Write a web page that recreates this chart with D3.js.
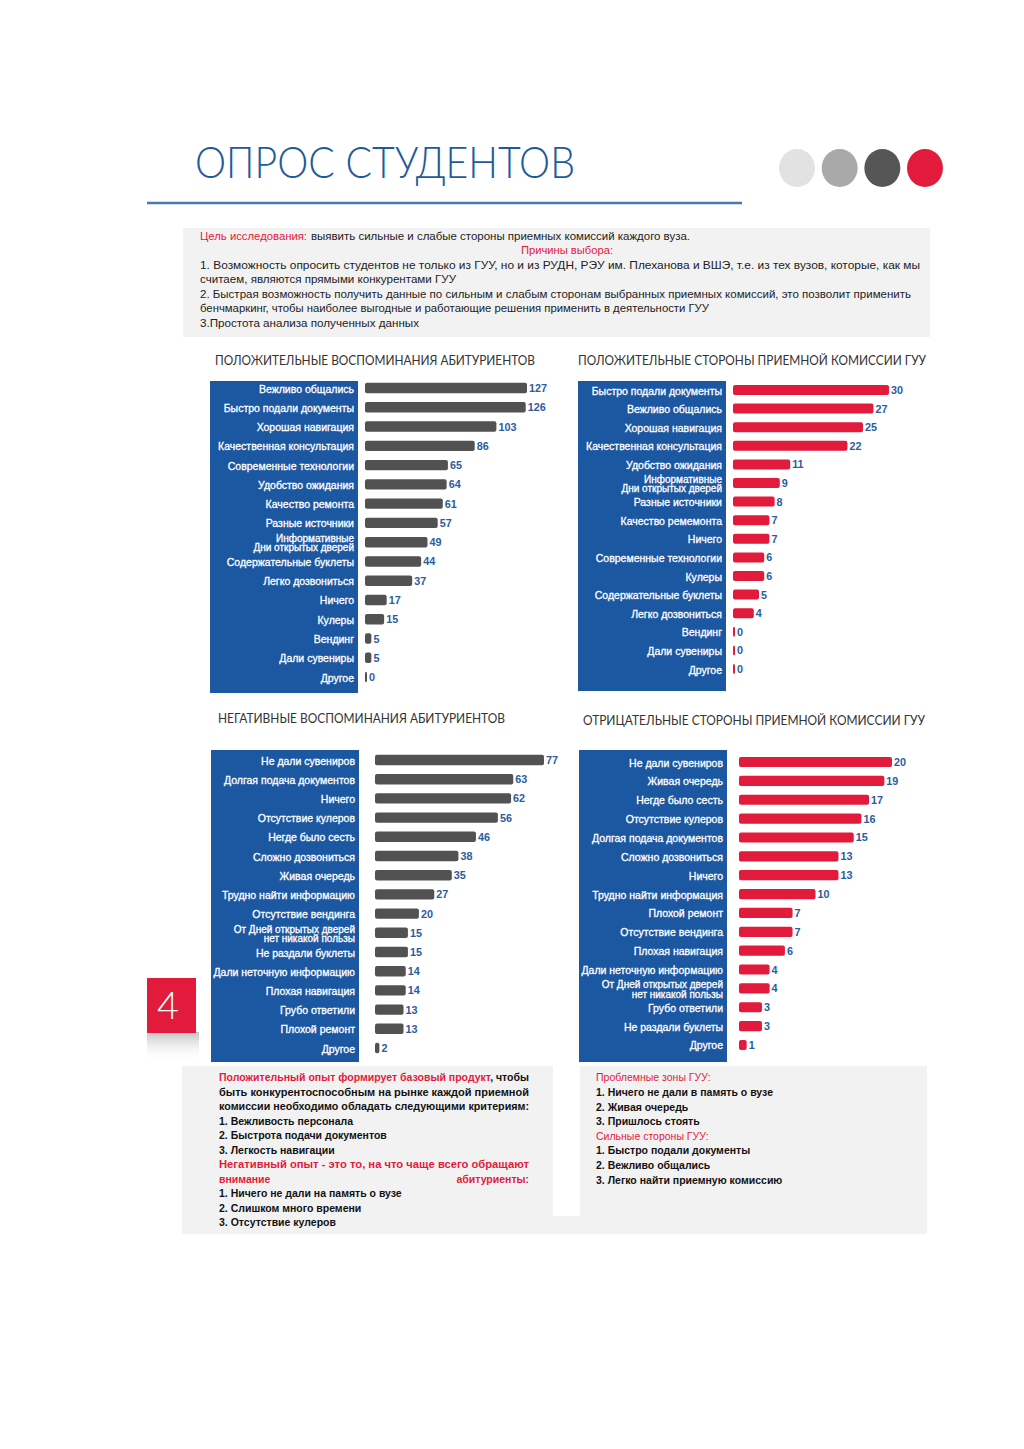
<!DOCTYPE html>
<html><head><meta charset="utf-8">
<script src="https://cdn.jsdelivr.net/npm/d3@7"></script>
<style>body{margin:0;background:#fff}svg{display:block}</style>
</head><body>
<script>
// ---------- DATA ----------
const posAbitLabels = ["Вежливо общались","Быстро подали документы","Хорошая навигация","Качественная консультация","Современные технологии","Удобство ожидания","Качество ремонта","Разные источники","Информативные\nДни  открытых дверей","Содержательные буклеты","Легко дозвониться","Ничего","Кулеры","Вендинг","Дали сувениры","Другое"];
const posAbitValues = [127,126,103,86,65,64,61,57,49,44,37,17,15,5,5,0];

const posGuuLabels = ["Быстро подали документы","Вежливо общались","Хорошая навигация","Качественная консультация","Удобство ожидания","Информативные\nДни открытых дверей","Разные источники","Качество ремемонта","Ничего","Современные технологии","Кулеры","Содержательные буклеты","Легко дозвониться","Вендинг","Дали сувениры","Другое"];
const posGuuValues = [30,27,25,22,11,9,8,7,7,6,6,5,4,0,0,0];

const negAbitLabels = ["Не дали сувениров","Долгая подача документов","Ничего","Отсутствие кулеров","Негде было сесть","Сложно дозвониться","Живая очередь","Трудно найти информацию","Отсутствие вендинга","От Дней открытых дверей\nнет никакой пользы","Не раздали буклеты","Дали неточную информацию","Плохая навигация","Грубо ответили","Плохой ремонт","Другое"];
const negAbitValues = [77,63,62,56,46,38,35,27,20,15,15,14,14,13,13,2];

const negGuuLabels = ["Не дали сувениров","Живая очередь","Негде было сесть","Отсутствие кулеров","Долгая подача документов","Сложно дозвониться","Ничего","Трудно найти информация","Плохой ремонт","Отсутствие вендинга","Плохая навигация","Дали неточную информацию","От Дней открытых дверей\nнет никакой пользы","Грубо ответили","Не раздали буклеты","Другое"];
const negGuuValues = [20,19,17,16,15,13,13,10,7,7,6,4,4,3,3,1];

const chartTitles = ["ПОЛОЖИТЕЛЬНЫЕ ВОСПОМИНАНИЯ АБИТУРИЕНТОВ","ПОЛОЖИТЕЛЬНЫЕ СТОРОНЫ ПРИЕМНОЙ КОМИССИИ ГУУ","НЕГАТИВНЫЕ ВОСПОМИНАНИЯ АБИТУРИЕНТОВ","ОТРИЦАТЕЛЬНЫЕ СТОРОНЫ ПРИЕМНОЙ КОМИССИИ ГУУ"];

// ---------- SETUP ----------
const W = 1024, H = 1449;
const RED = "#e21a3c", BLUE_PANEL = "#1c57a2", BLUE_VAL = "#2a5d9e", DARK = "#525252";
const svg = d3.select("body").append("svg").attr("width", W).attr("height", H);
svg.append("rect").attr("width", W).attr("height", H).attr("fill", "#fff");
const FONT = "'Liberation Sans', Arial, sans-serif";
const TFONT = "Lato, 'Open Sans', sans-serif";

function txt(x, y, s, opt = {}) {
  const t = svg.append("text").attr("x", x).attr("y", y).text(s)
    .attr("font-family", opt.family || FONT)
    .attr("font-size", opt.size || 10.5)
    .attr("font-weight", opt.weight || "normal")
    .attr("fill", opt.fill || "#111")
    .attr("text-anchor", opt.anchor || "start");
  if (opt.len) t.attr("textLength", opt.len).attr("lengthAdjust", "spacingAndGlyphs");
  return t;
}

// ---------- HEADER ----------
txt(195, 178, "ОПРОС СТУДЕНТОВ", {family: TFONT, size: 43, weight: 300, fill: "#1e5a9c", len: 380});
svg.append("line").attr("x1", 147).attr("x2", 742).attr("y1", 203).attr("y2", 203)
  .attr("stroke", "#4a78b4").attr("stroke-width", 2.5);
const dotColors = ["#e2e2e2", "#a9a9a9", "#565656", RED];
const dotX = d3.scalePoint().domain(d3.range(4)).range([797, 925]);
svg.selectAll(".dot").data(dotColors).join("ellipse")
  .attr("cx", (d, i) => dotX(i)).attr("cy", 168).attr("rx", 18).attr("ry", 19).attr("fill", d => d);

// ---------- INTRO BLOCK ----------
svg.append("rect").attr("x", 183).attr("y", 228).attr("width", 747).attr("height", 109).attr("fill", "#f2f2f2");
const introOpt = {size: 10.5, fill: "#222"};
txt(200, 240, "Цель исследования:", {...introOpt, fill: RED, len: 107});
txt(311, 240, "выявить сильные и слабые стороны приемных комиссий каждого вуза.", {...introOpt, len: 379});
txt(567, 254, "Причины выбора:", {...introOpt, fill: RED, anchor: "middle", len: 92});
txt(200, 269, "1. Возможность опросить студентов не только из ГУУ, но и из РУДН, РЭУ им. Плеханова и ВШЭ, т.е. из тех вузов, которые, как мы", {...introOpt, len: 720});
txt(200, 283, "считаем, являются прямыми конкурентами ГУУ", {...introOpt, len: 256});
txt(200, 298, "2. Быстрая возможность получить данные по сильным и слабым сторонам выбранных приемных комиссий, это позволит применить", {...introOpt, len: 711});
txt(200, 312, "бенчмаркинг, чтобы наиболее выгодные и работающие решения применить в деятельности ГУУ", {...introOpt, len: 509});
txt(200, 327, "3.Простота анализа полученных данных", {...introOpt, len: 219});

// ---------- CHARTS ----------
const charts = [
  {labels: posAbitLabels, values: posAbitValues, color: DARK, title: chartTitles[0],
   tx: 215, ty: 365, tlen: 320, panel: [210, 381, 148, 312], x0: 365, x1: 527, y0: 378.4, y1: 686.7},
  {labels: posGuuLabels, values: posGuuValues, color: RED, title: chartTitles[1],
   tx: 578, ty: 365, tlen: 348, panel: [578, 381, 148, 310], x0: 733, x1: 889, y0: 380.7, y1: 678.3},
  {labels: negAbitLabels, values: negAbitValues, color: DARK, title: chartTitles[2],
   tx: 218, ty: 723, tlen: 287, panel: [211, 750, 148, 312], x0: 375, x1: 544, y0: 750.4, y1: 1057.6},
  {labels: negGuuLabels, values: negGuuValues, color: RED, title: chartTitles[3],
   tx: 583, ty: 725, tlen: 342, panel: [579, 750, 148, 312], x0: 739, x1: 892, y0: 752.6, y1: 1054.4}
];

charts.forEach(c => {
  txt(c.tx, c.ty, c.title, {family: TFONT, size: 13, fill: "#333", len: c.tlen});
  const [px, py, pw, ph] = c.panel;
  svg.append("rect").attr("x", px).attr("y", py).attr("width", pw).attr("height", ph).attr("fill", BLUE_PANEL);
  const x = d3.scaleLinear().domain([0, d3.max(c.values)]).range([c.x0, c.x1]);
  const y = d3.scaleBand().domain(d3.range(c.values.length)).range([c.y0, c.y1]).paddingInner(0.46).paddingOuter(0.23);
  const g = svg.append("g");
  const rows = c.values.map((v, i) => ({v, i, label: c.labels[i]}));
  g.selectAll("rect.bar").data(rows).join("rect").attr("class", "bar")
    .attr("x", c.x0).attr("y", d => y(d.i))
    .attr("width", d => Math.max(2, x(d.v) - c.x0)).attr("height", y.bandwidth())
    .attr("rx", 2).attr("fill", c.color);
  g.selectAll("text.val").data(rows).join("text").attr("class", "val")
    .attr("x", d => Math.max(c.x0 + 2, x(d.v)) + 2)
    .attr("y", d => y(d.i) + y.bandwidth() / 2 + 4)
    .attr("font-family", FONT).attr("font-size", 10.8).attr("font-weight", "bold")
    .attr("fill", BLUE_VAL).text(d => d.v);
  rows.forEach(d => {
    const lines = d.label.split("\n");
    const cy = y(d.i) + y.bandwidth() / 2 + 1;
    lines.forEach((ln, k) => {
      const yy = cy + 3.5 + (k - (lines.length - 1) / 2) * 9.5;
      const t = g.append("text").attr("x", px + pw - 4).attr("y", yy)
        .attr("text-anchor", "end").attr("font-family", FONT).attr("font-size", lines.length > 1 ? 10 : 10.5)
        .attr("fill", "#fff").attr("stroke", "#fff").attr("stroke-width", 0.3).text(ln);
      const w = t.node().getComputedTextLength();
      if (w > pw - 6) t.attr("textLength", pw - 6).attr("lengthAdjust", "spacingAndGlyphs");
    });
  });
});

// ---------- PAGE MARKER "4" ----------
const grad = svg.append("defs").append("linearGradient").attr("id", "shd").attr("x1", 0).attr("y1", 0).attr("x2", 0).attr("y2", 1);
grad.append("stop").attr("offset", 0).attr("stop-color", "#bdbdbd").attr("stop-opacity", 0.9);
grad.append("stop").attr("offset", 1).attr("stop-color", "#ffffff").attr("stop-opacity", 0);
svg.append("rect").attr("x", 147).attr("y", 1032).attr("width", 52).attr("height", 30).attr("fill", "url(#shd)");
svg.append("rect").attr("x", 147).attr("y", 978).attr("width", 49).attr("height", 55).attr("fill", RED);
txt(168, 1019, "4", {family: TFONT, size: 38, weight: 300, fill: "#fff", anchor: "middle"});

// ---------- CONCLUSIONS ----------
svg.append("rect").attr("x", 182).attr("y", 1066).attr("width", 745).attr("height", 168).attr("fill", "#f2f2f2");
svg.append("rect").attr("x", 553).attr("y", 1066).attr("width", 27).attr("height", 150).attr("fill", "#fff");

const bo = {size: 10.5, weight: "bold"};
const leftLines = [
  {y: 1081, parts: [{s: "Положительный опыт формирует базовый продукт", fill: RED, x: 219, len: 272}, {s: ", чтобы", x: 529, anchor: "end"}]},
  {y: 1096, parts: [{s: "быть конкурентоспособным на рынке каждой приемной", x: 219, len: 310}]},
  {y: 1110, parts: [{s: "комиссии необходимо обладать следующими критериям:", x: 219, len: 310}]},
  {y: 1125, parts: [{s: "1. Вежливость персонала", x: 219}]},
  {y: 1139, parts: [{s: "2. Быстрота подачи документов", x: 219}]},
  {y: 1154, parts: [{s: "3. Легкость навигации", x: 219}]},
  {y: 1168, parts: [{s: "Негативный опыт - это то, на что чаще всего обращают", fill: RED, x: 219, len: 310}]},
  {y: 1183, parts: [{s: "внимание", fill: RED, x: 219}, {s: "абитуриенты:", fill: RED, x: 529, anchor: "end"}]},
  {y: 1197, parts: [{s: "1. Ничего не дали на память о вузе", x: 219}]},
  {y: 1212, parts: [{s: "2. Слишком много времени", x: 219}]},
  {y: 1226, parts: [{s: "3. Отсутствие кулеров", x: 219}]}
];
leftLines.forEach(l => l.parts.forEach(p => txt(p.x, l.y, p.s, {...bo, fill: p.fill || "#111", anchor: p.anchor, len: p.len})));

const rightLines = [
  {y: 1081, s: "Проблемные зоны ГУУ:", fill: RED},
  {y: 1096, s: "1. Ничего не дали в память о вузе"},
  {y: 1111, s: "2. Живая очередь"},
  {y: 1125, s: "3. Пришлось стоять"},
  {y: 1140, s: "Сильные стороны ГУУ:", fill: RED},
  {y: 1154, s: "1. Быстро подали документы"},
  {y: 1169, s: "2. Вежливо общались"},
  {y: 1184, s: "3. Легко найти приемную комиссию"}
];
rightLines.forEach(l => txt(596, l.y, l.s, {...bo, fill: l.fill || "#111", weight: l.fill ? "normal" : "bold"}));
</script>
</body></html>
